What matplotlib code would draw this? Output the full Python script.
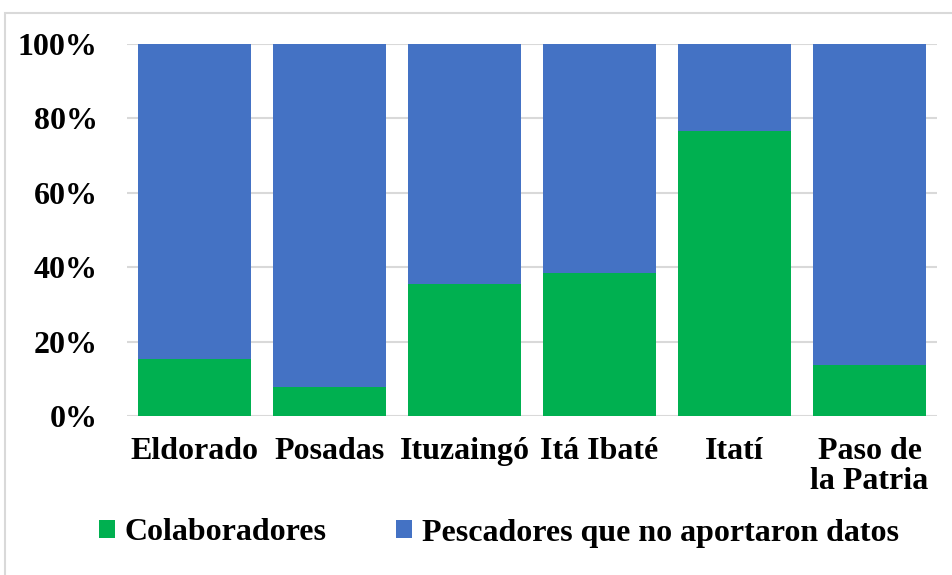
import matplotlib.pyplot as plt
from matplotlib.patches import Rectangle

categorias = ['Eldorado', 'Posadas', 'Ituzaingó', 'Itá Ibaté', 'Itatí', 'Paso de\nla Patria']
colaboradores = [15.3, 7.7, 35.5, 38.5, 76.6, 13.8]
no_aportaron = [100 - v for v in colaboradores]
series = ['Colaboradores', 'Pescadores que no aportaron datos']
colores = ['#00B050', '#4472C4']

plt.rcParams['font.family'] = ['Liberation Serif', 'DejaVu Serif']
plt.rcParams['font.weight'] = 'bold'

fig = plt.figure(figsize=(9.52, 5.75), dpi=100)
ax = fig.add_axes([127/952, 1 - 416/575, 810/952, 372/575])

x = list(range(len(categorias)))
ax.bar(x, colaboradores, width=0.835, color=colores[0], label=series[0], zorder=3)
ax.bar(x, no_aportaron, width=0.835, bottom=colaboradores, color=colores[1],
       label=series[1], zorder=3)

ax.set_xlim(-0.5, len(categorias) - 0.5)
ax.set_ylim(0, 100)
ax.set_yticks([0, 20, 40, 60, 80, 100])
ax.set_yticklabels(['0%', '20%', '40%', '60%', '80%', '100%'])
ax.set_xticks(x)
ax.set_xticklabels(categorias, linespacing=1.05)
ax.tick_params(axis='both', length=0, labelsize=23)
ax.tick_params(axis='y', pad=21)
ax.tick_params(axis='x', pad=15)
ax.grid(axis='y', color='#d9d9d9', linewidth=1.5, zorder=0)
for s in ax.spines.values():
    s.set_visible(False)

# marco del grafico
fig.patches.append(Rectangle((5/952, -0.1), 1.1, 1 - 13/575 + 0.1,
                             transform=fig.transFigure, fill=False,
                             edgecolor='#d9d9d9', linewidth=1.5))

fig.legend(loc='center', bbox_to_anchor=(0.524, 1 - 533/575), ncol=2, frameon=False,
           fontsize=23, handlelength=0.5, handleheight=0.5, handletextpad=0.3,
           columnspacing=2.2)

fig.savefig('out.png', dpi=100)
